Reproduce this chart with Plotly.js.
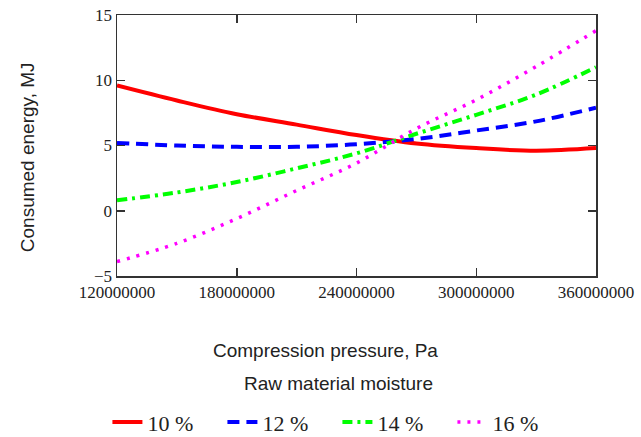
<!DOCTYPE html>
<html>
<head>
<meta charset="utf-8">
<script src="https://cdn.plot.ly/plotly-3.0.1.min.js"></script>
<style>html,body{margin:0;padding:0;background:#fff}#chart{width:641px;height:437px}</style>
</head>
<body>
<div id="chart"></div>
<script>
// Compression pressure, Pa
var pressure = [120e6, 150e6, 180e6, 210e6, 240e6, 270e6, 300e6, 330e6, 360e6];
// Consumed energy, MJ for each raw material moisture
var e10 = [9.6, 8.45, 7.4, 6.6, 5.8, 5.15, 4.8, 4.6, 4.8];
var e12 = [5.2, 5.0, 4.9, 4.9, 5.1, 5.5, 6.15, 6.85, 7.9];
var e14 = [0.8, 1.4, 2.2, 3.25, 4.4, 5.9, 7.35, 8.9, 11.0];
var e16 = [-3.9, -2.5, -0.6, 1.55, 3.65, 6.3, 8.5, 11.05, 13.8];
var seriesNames = ['10 %', '12 %', '14 %', '16 %'];
var xTicks = [120e6, 180e6, 240e6, 300e6, 360e6];
var yTicks = [-5, 0, 5, 10, 15];

var data = [
  {x: pressure, y: e10, name: seriesNames[0], mode: 'lines', line: {color: '#ff0000', width: 4, shape: 'spline'}},
  {x: pressure, y: e12, name: seriesNames[1], mode: 'lines', line: {color: '#0000ff', width: 4, dash: '12px,7px', shape: 'spline'}},
  {x: pressure, y: e14, name: seriesNames[2], mode: 'lines', line: {color: '#00ff00', width: 4, dash: '10px,5px,3px,5px', shape: 'spline'}},
  {x: pressure, y: e16, name: seriesNames[3], mode: 'lines', line: {color: '#ff00ff', width: 3.5, dash: '3px,7px', shape: 'spline'}}
];

var serif = '"Liberation Serif", "Times New Roman", serif';
var sans = '"Liberation Sans", Arial, sans-serif';

var layout = {
  width: 641, height: 437,
  margin: {l: 117, r: 45, t: 15, b: 161, autoexpand: false},
  paper_bgcolor: '#fff', plot_bgcolor: '#fff',
  showlegend: true,
  xaxis: {
    range: [120e6, 360e6], tickvals: xTicks, tickformat: 'd', automargin: false,
    showgrid: false, zeroline: false, showline: true, linecolor: '#333', linewidth: 1.5,
    mirror: 'ticks', ticks: 'inside', ticklen: 8, tickcolor: '#333', tickwidth: 1.5,
    tickfont: {family: serif, size: 17, color: '#222'}
  },
  yaxis: {
    range: [-5, 15], tickvals: yTicks, automargin: false,
    showgrid: false, zeroline: false, showline: true, linecolor: '#333', linewidth: 1.5,
    mirror: 'ticks', ticks: 'inside', ticklen: 8, tickcolor: '#333', tickwidth: 1.5,
    tickfont: {family: serif, size: 17, color: '#222'}
  },
  legend: {
    orientation: 'h', x: -0.02, xanchor: 'left', y: -0.56, yanchor: 'middle',
    entrywidth: 70, entrywidthmode: 'pixels',
    font: {family: serif, size: 22, color: '#222'}, bgcolor: 'rgba(0,0,0,0)'
  },
  annotations: [
    {text: 'Consumed energy, MJ', xref: 'paper', yref: 'paper', x: -0.188, y: 0.455,
     xanchor: 'center', yanchor: 'middle', textangle: -90, showarrow: false,
     font: {family: sans, size: 19, color: '#222'}},
    {text: 'Compression pressure, Pa', xref: 'paper', yref: 'paper', x: 0.435, y: -0.285,
     xanchor: 'center', yanchor: 'middle', showarrow: false,
     font: {family: sans, size: 19, color: '#222'}},
    {text: 'Raw material moisture', xref: 'paper', yref: 'paper', x: 0.462, y: -0.41,
     xanchor: 'center', yanchor: 'middle', showarrow: false,
     font: {family: sans, size: 19, color: '#222'}}
  ]
};

Plotly.newPlot('chart', data, layout, {displayModeBar: false, staticPlot: true});
</script>
</body>
</html>
